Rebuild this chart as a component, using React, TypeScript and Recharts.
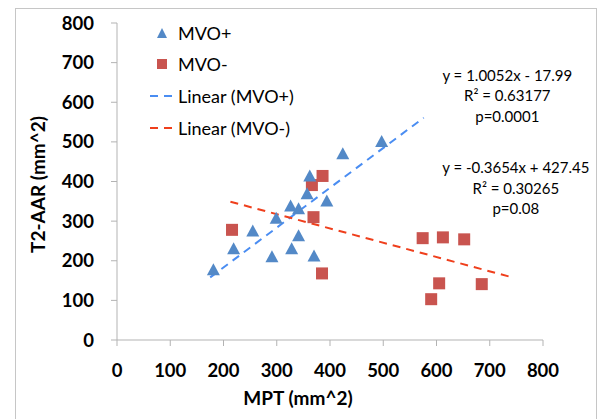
import {
  ScatterChart,
  Scatter,
  XAxis,
  YAxis,
  Legend,
  ReferenceDot,
} from "recharts";

// MVO+ (triangles)
const mvoPlusX = [181, 219, 255, 291, 299, 328, 326, 341, 341, 357, 362, 370, 394, 424, 497];
const mvoPlusY = [177, 230, 275, 210, 307, 230, 338, 331, 263, 369, 414, 212, 351, 470, 501];

// MVO- (squares)
const mvoMinusX = [216, 366, 386, 369, 385, 574, 612, 652, 605, 590, 685];
const mvoMinusY = [278, 391, 414, 310, 168, 257, 259, 254, 143, 103, 141];

// trend line end points as drawn
const trendPlusX = [175, 576];
const trendPlusY = [158, 561];
const trendMinusX = [213, 737];
const trendMinusY = [349, 160];

const axisTicks = [0, 100, 200, 300, 400, 500, 600, 700, 800];

const plusLabel = ["y = 1.0052x - 17.99", "R\u00b2 = 0.63177", "p=0.0001"];
const minusLabel = ["y = -0.3654x + 427.45", "R\u00b2 = 0.30265", "p=0.08"];

const legendNames = ["MVO+", "MVO-", "Linear (MVO+)", "Linear (MVO-)"];

const toPoints = (xs: number[], ys: number[]) => xs.map((x, i) => ({ x, y: ys[i] }));

const BLUE = "#5389c7";
const RED = "#c9544f";
const BLUE_LINE = "#4a8df2";
const RED_LINE = "#ef3f1c";
const FONT = "Lato, 'Open Sans', sans-serif";

function Triangle(props: any) {
  const { cx, cy } = props;
  if (cx == null || cy == null) return <g />;
  return (
    <polygon
      points={`${cx},${cy - 6.5} ${cx + 6.5},${cy + 5.5} ${cx - 6.5},${cy + 5.5}`}
      fill={BLUE}
    />
  );
}

function Square(props: any) {
  const { cx, cy } = props;
  if (cx == null || cy == null) return <g />;
  return <rect x={cx - 6} y={cy - 6} width={12} height={12} fill={RED} />;
}

const NoDot = () => <g />;

function note(lines: string[]) {
  return (props: any) => (
    <text
      x={props.cx}
      y={props.cy}
      textAnchor="middle"
      fontFamily={FONT}
      fontSize={15}
      fill="#000"
    >
      {lines.map((l, i) => (
        <tspan key={i} x={props.cx} dy={i === 0 ? 5 : 20.5}>
          {l}
        </tspan>
      ))}
    </text>
  );
}

function LegendBox() {
  const icons = [
    <svg width={24} height={14}>
      <polygon points="12,2 17,12 7,12" fill={BLUE} />
    </svg>,
    <svg width={24} height={14}>
      <rect x={7} y={2} width={10} height={10} fill={RED} />
    </svg>,
    <svg width={24} height={14}>
      <line x1={0} y1={7} x2={24} y2={7} stroke={BLUE_LINE} strokeWidth={2} strokeDasharray="8 6" />
    </svg>,
    <svg width={24} height={14}>
      <line x1={0} y1={7} x2={24} y2={7} stroke={RED_LINE} strokeWidth={2} strokeDasharray="8 6" />
    </svg>,
  ];
  return (
    <div style={{ fontFamily: FONT, fontSize: 18, color: "#000" }}>
      {legendNames.map((n, i) => (
        <div key={n} style={{ display: "flex", alignItems: "center", height: 31.6 }}>
          {icons[i]}
          <span style={{ marginLeft: 4 }}>{n}</span>
        </div>
      ))}
    </div>
  );
}

export default function App() {
  const tickStyle = { fill: "#000", fontSize: 18.5, fontWeight: 700, fontFamily: FONT };
  const titleStyle = { fill: "#000", fontSize: 19, fontWeight: 700, fontFamily: FONT };
  return (
    <div style={{ position: "absolute", left: 0, top: 0, width: 605, height: 419, background: "#fff", overflow: "hidden" }}>
      <div
        style={{
          position: "absolute",
          left: 15,
          top: 8,
          width: 580,
          height: 430,
          border: "1px solid #c6c6c6",
        }}
      />
      <ScatterChart
        width={605}
        height={419}
        margin={{ top: 23, right: 62, bottom: 0, left: 0 }}
        style={{ position: "absolute", left: 0, top: 0 }}
      >
        <XAxis
          type="number"
          dataKey="x"
          domain={[0, 800]}
          ticks={axisTicks}
          height={79}
          stroke="#b3b3b3"
          tickSize={6}
          tickMargin={18}
          tick={tickStyle}
          label={{
            value: "MPT (mm^2)",
            position: "insideBottom",
            offset: 14,
            dx: -32,
            style: titleStyle,
          }}
        />
        <YAxis
          type="number"
          dataKey="y"
          domain={[0, 800]}
          ticks={axisTicks}
          width={117}
          stroke="#b3b3b3"
          tickSize={6}
          tickMargin={17}
          tick={tickStyle}
          label={{
            value: "T2-AAR (mm^2)",
            angle: -90,
            position: "insideLeft",
            offset: 38,
            dy: 3,
            style: { ...titleStyle, textAnchor: "middle" },
          }}
        />
        <Legend
          layout="vertical"
          align="center"
          verticalAlign="middle"
          content={() => <LegendBox />}
          wrapperStyle={{ left: 150, top: 17, width: 200, height: 130 }}
        />
        <Scatter
          name="Linear (MVO+)"
          data={toPoints(trendPlusX, trendPlusY)}
          line={{ stroke: BLUE_LINE, strokeWidth: 2, strokeDasharray: "8 6" }}
          shape={NoDot}
          isAnimationActive={false}
        />
        <Scatter
          name="Linear (MVO-)"
          data={toPoints(trendMinusX, trendMinusY)}
          line={{ stroke: RED_LINE, strokeWidth: 2, strokeDasharray: "8 6" }}
          shape={NoDot}
          isAnimationActive={false}
        />
        <Scatter
          name="MVO-"
          data={toPoints(mvoMinusX, mvoMinusY)}
          shape={Square}
          isAnimationActive={false}
        />
        <Scatter
          name="MVO+"
          data={toPoints(mvoPlusX, mvoPlusY)}
          shape={Triangle}
          isAnimationActive={false}
        />
        <ReferenceDot x={733} y={667} r={0} shape={note(plusLabel)} />
        <ReferenceDot x={749} y={434} r={0} shape={note(minusLabel)} />
      </ScatterChart>
    </div>
  );
}
